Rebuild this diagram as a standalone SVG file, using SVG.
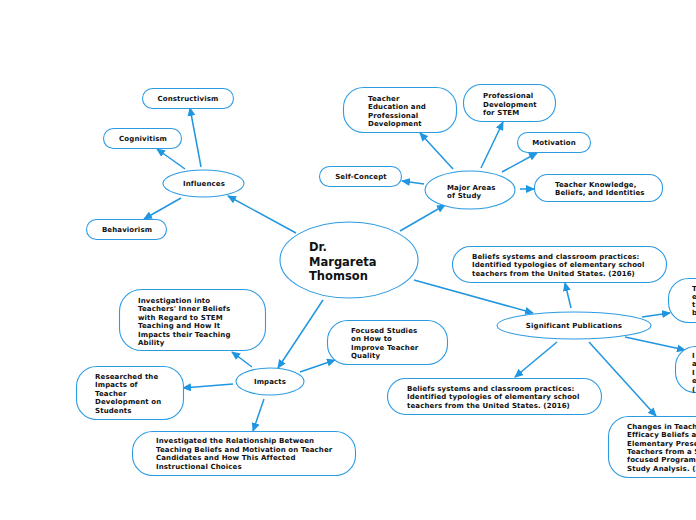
<svg xmlns="http://www.w3.org/2000/svg" width="696" height="520" viewBox="0 0 696 520">
<defs>
<marker id="ah" markerUnits="userSpaceOnUse" markerWidth="9" markerHeight="8" refX="8" refY="4" orient="auto"><path d="M0,0 L9,4 L0,8 Z" fill="#2196e0"/></marker>
<style>
.n{fill:#fff;stroke:#2d9be2;stroke-width:1.1}
.c{fill:none;stroke:#2196e0;stroke-width:1.5;marker-end:url(#ah)}
text{font-family:"DejaVu Sans",Verdana,sans-serif;font-weight:bold;font-size:7px;letter-spacing:0.12px;fill:#111}
.m{text-anchor:middle}
.t{font-size:11.5px;letter-spacing:0}
</style>
</defs>
<rect width="696" height="520" fill="#fff"/>
<g id="connectors">
<line class="c" x1="296" y1="233" x2="228" y2="196"/>
<line class="c" x1="201" y1="167" x2="190" y2="108"/>
<line class="c" x1="185" y1="169" x2="157" y2="149"/>
<line class="c" x1="181" y1="198" x2="144" y2="219"/>
<line class="c" x1="400" y1="231" x2="445" y2="205"/>
<line class="c" x1="453" y1="169" x2="420" y2="133"/>
<line class="c" x1="481" y1="168" x2="503" y2="122"/>
<line class="c" x1="502" y1="172" x2="537" y2="153"/>
<line class="c" x1="424" y1="184" x2="402" y2="181"/>
<line class="c" x1="520" y1="189" x2="534" y2="189"/>
<line class="c" x1="414" y1="280" x2="533" y2="313"/>
<line class="c" x1="571" y1="308" x2="565" y2="283"/>
<line class="c" x1="642" y1="317" x2="670" y2="313"/>
<line class="c" x1="625" y1="337" x2="685" y2="350"/>
<line class="c" x1="557" y1="342" x2="515" y2="377"/>
<line class="c" x1="589" y1="342" x2="656" y2="416"/>
<line class="c" x1="323" y1="300" x2="278" y2="368"/>
<line class="c" x1="252" y1="367" x2="232" y2="352"/>
<line class="c" x1="300" y1="372" x2="335" y2="360"/>
<line class="c" x1="233" y1="384" x2="183" y2="388"/>
<line class="c" x1="264" y1="399" x2="253" y2="431"/>
</g>
<g id="center"><ellipse class="n" cx="349" cy="260" rx="69" ry="38"/>
<text class="t" x="309" y="251">Dr.</text><text class="t" x="309" y="266">Margareta</text><text class="t" x="309" y="280">Thomson</text></g>
<g id="influences"><ellipse class="n" cx="203.5" cy="183.5" rx="40.5" ry="13.5"/><text class="m" x="204" y="186">Influences</text></g>
<g id="constructivism"><rect class="n" x="142.5" y="88.5" width="91" height="20" rx="10"/><text class="m" x="188" y="101">Constructivism</text></g>
<g id="cognivitism"><rect class="n" x="103.5" y="128.5" width="78" height="20" rx="10"/><text class="m" x="143" y="141">Cognivitism</text></g>
<g id="behaviorism"><rect class="n" x="86.5" y="219.5" width="80" height="20" rx="10"/><text class="m" x="127" y="232">Behaviorism</text></g>
<g id="major"><ellipse class="n" cx="470" cy="190" rx="45" ry="19"/><text x="447" y="189.5">Major Areas</text><text x="447" y="197.5">of Study</text></g>
<g id="teacher-ed"><rect class="n" x="343.5" y="87.5" width="113" height="45" rx="20"/><text x="368" y="100.5">Teacher</text><text x="368" y="109">Education and</text><text x="368" y="117.5">Professional</text><text x="368" y="126">Development</text></g>
<g id="prof-dev"><rect class="n" x="463.5" y="84.5" width="92" height="37" rx="18"/><text x="483" y="98">Professional</text><text x="483" y="106.5">Development</text><text x="483" y="115">for STEM</text></g>
<g id="motivation"><rect class="n" x="517.5" y="132.5" width="73" height="20" rx="10"/><text class="m" x="554" y="145">Motivation</text></g>
<g id="self-concept"><rect class="n" x="319.5" y="166.5" width="82" height="20" rx="10"/><text class="m" x="361" y="179">Self-Concept</text></g>
<g id="teacher-knowledge"><rect class="n" x="534.5" y="174.5" width="128" height="27" rx="13"/><text x="555" y="186.5">Teacher Knowledge,</text><text x="555" y="195">Beliefs, and Identities</text></g>
<g id="publications"><ellipse class="n" cx="574" cy="325.5" rx="77" ry="13.5"/><text class="m" x="574" y="328">Significant Publications</text></g>
<g id="beliefs-top"><rect class="n" x="452.5" y="246.5" width="214" height="36" rx="18"/><text x="472" y="258.5">Beliefs systems and classroom practices:</text><text x="472" y="267.2">Identified typologies of elementary school</text><text x="472" y="276">teachers from the United States. (2016)</text></g>
<g id="pub-right-1"><rect class="n" x="668.5" y="278.5" width="80" height="44" rx="20"/><text x="692" y="290.5">T</text><text x="692" y="298.8">e</text><text x="692" y="307">t</text><text x="692" y="315.3">b</text></g>
<g id="pub-right-2"><rect class="n" x="675.5" y="346.5" width="80" height="46" rx="20"/><text x="692" y="357.5">I</text><text x="692" y="366">a</text><text x="692" y="374.5">I</text><text x="692" y="383">e</text><text x="692" y="391.5">(</text></g>
<g id="beliefs-bottom"><rect class="n" x="387.5" y="378.5" width="214" height="36" rx="18"/><text x="407" y="390.5">Beliefs systems and classroom practices:</text><text x="407" y="399.2">Identified typologies of elementary school</text><text x="407" y="408">teachers from the United States. (2016)</text></g>
<g id="changes"><rect class="n" x="608.5" y="416.5" width="120" height="61" rx="20"/><text x="627" y="429">Changes in Teach</text><text x="627" y="437.3">Efficacy Beliefs an</text><text x="627" y="445.7">Elementary Prese</text><text x="627" y="454">Teachers from a S</text><text x="627" y="462.4">focused Program:</text><text x="627" y="470.7">Study Analysis. (2</text></g>
<g id="impacts"><ellipse class="n" cx="270" cy="381.5" rx="34" ry="13.5"/><text class="m" x="270" y="384">Impacts</text></g>
<g id="investigation"><rect class="n" x="119.5" y="289.5" width="146" height="61" rx="22"/><text x="138" y="302.5">Investigation into</text><text x="138" y="311">Teachers' Inner Beliefs</text><text x="138" y="319.5">with Regard to STEM</text><text x="138" y="328">Teaching and How It</text><text x="138" y="336.5">Impacts their Teaching</text><text x="138" y="345">Ability</text></g>
<g id="focused"><rect class="n" x="327.5" y="320.5" width="120" height="44" rx="20"/><text x="351" y="332.5">Focused Studies</text><text x="351" y="341">on How to</text><text x="351" y="349.5">Improve Teacher</text><text x="351" y="358">Quality</text></g>
<g id="researched"><rect class="n" x="76.5" y="366.5" width="107" height="53" rx="20"/><text x="95" y="378.5">Researched the</text><text x="95" y="387">Impacts of</text><text x="95" y="395.5">Teacher</text><text x="95" y="404">Development on</text><text x="95" y="412.5">Students</text></g>
<g id="investigated"><rect class="n" x="132.5" y="431.5" width="223" height="44" rx="20"/><text x="156" y="443">Investigated the Relationship Between</text><text x="156" y="451.5">Teaching Beliefs and Motivation on Teacher</text><text x="156" y="460">Candidates and How This Affected</text><text x="156" y="468.5">Instructional Choices</text></g>
</svg>
